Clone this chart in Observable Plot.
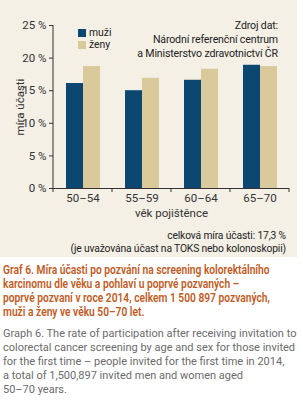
<!DOCTYPE html>
<html><head><meta charset="utf-8">
<script src="https://cdn.jsdelivr.net/npm/d3@7"></script>
<script src="https://cdn.jsdelivr.net/npm/@observablehq/plot@0.6"></script>
<style>
body{margin:0;background:#fff;font-family:Roboto,sans-serif;}
#panel{position:relative;width:297px;height:257px;background:#f4f0e6;overflow:hidden;}
#chart{position:absolute;left:0;top:0;}
.leg{position:absolute;left:78px;font-size:10.4px;color:#222;height:10px;line-height:10px;white-space:nowrap;}
.leg span.sw{display:inline-block;width:8px;height:8px;margin-right:3px;vertical-align:-1px;}
#src{position:absolute;right:19px;top:19px;text-align:right;font-size:10.6px;letter-spacing:-0.15px;line-height:14px;color:#222;white-space:nowrap;}
#note{position:absolute;right:11px;top:229px;text-align:right;font-size:10.3px;letter-spacing:-0.15px;line-height:13px;color:#222;white-space:nowrap;}
#cap{padding:6px 0 0 3px;font-size:12.2px;line-height:14px;}
#cap .t{color:#c45a1c;font-weight:600;white-space:nowrap;transform:scaleX(0.84);transform-origin:left top;}
#cap .e{color:#6b6b6b;white-space:nowrap;font-size:11px;margin-top:8px;}
</style></head><body>
<div id="panel">
  <div id="chart"></div>
  <div class="leg" style="top:28px"><span class="sw" id="sw0"></span>muži</div>
  <div class="leg" style="top:40px"><span class="sw" id="sw1"></span>ženy</div>
  <div id="src">Zdroj dat:<br>Národní referenční centrum<br>a Ministerstvo zdravotnictví ČR</div>
  <div id="note">celková míra účasti: 17,3 %<br>(je uvažována účast na TOKS nebo kolonoskopii)</div>
</div>
<div id="cap">
<div class="t">Graf 6. Míra účasti po pozvání na screening kolorektálního<br>karcinomu dle věku a pohlaví u poprvé pozvaných –<br>poprvé pozvaní v roce 2014, celkem 1 500 897 pozvaných,<br>muži a ženy ve věku 50–70 let.</div>
<div class="e">Graph 6. The rate of participation after receiving invitation to<br>colorectal cancer screening by age and sex for those invited<br>for the first time – people invited for the first time in 2014,<br>a total of 1,500,897 invited men and women aged<br>50–70 years.</div>
</div>
<script>
const ages = ["50–54","55–59","60–64","65–70"];
const sexes = ["muži","ženy"];
const muzi = [16.1, 15.0, 16.6, 18.9];
const zeny = [18.7, 16.9, 18.3, 18.7];
const yTicks = [0, 5, 10, 15, 20, 25];
const colors = ["#0b4770", "#d9c99b"];

document.getElementById("sw0").style.background = colors[0];
document.getElementById("sw1").style.background = colors[1];

const data = ages.flatMap((a, i) => [
  {age: a, sex: sexes[0], v: muzi[i]},
  {age: a, sex: sexes[1], v: zeny[i]}
]);

const plot = Plot.plot({
  width: 297, height: 222,
  marginTop: 25, marginBottom: 34, marginLeft: 53, marginRight: 8,
  style: {background: "transparent", fontFamily: "Roboto", fontSize: "11px", color: "#333"},
  fx: {domain: ages, padding: 0},
  x: {domain: sexes, paddingInner: 0, paddingOuter: 0.735, axis: null},
  y: {domain: [0, 25], ticks: yTicks},
  color: {domain: sexes, range: colors},
  marks: [
    Plot.barY(data, {fx: "age", x: "sex", y: "v", fill: "sex"}),
    Plot.ruleY([0], {stroke: "#333"}),
    Plot.axisFx({anchor: "bottom", tickSize: 0, tickPadding: 5, label: "věk pojištěnce", labelAnchor: "center", labelOffset: 28, labelArrow: "none", fontSize: 11.5}),
    Plot.axisY({ticks: yTicks, tickFormat: d => d + " %", tickSize: 4, tickPadding: 3, label: "míra účasti", labelAnchor: "center", labelOffset: 38, labelArrow: "none", fontSize: 11.5})
  ]
});
document.getElementById("chart").append(plot);

const fx = plot.scale("fx"), y = plot.scale("y");
const svg = d3.select(plot);
const y0 = y.apply(0), yTop = y.apply(25);
const x0 = fx.apply(ages[0]);
svg.append("line").attr("x1", x0).attr("x2", x0).attr("y1", y0).attr("y2", yTop).attr("stroke", "#333");
const bounds = ages.map(a => fx.apply(a)).concat([fx.apply(ages[ages.length-1]) + fx.bandwidth]);
svg.selectAll("line.b").data(bounds).join("line").attr("class","b")
  .attr("x1", d => d).attr("x2", d => d).attr("y1", y0).attr("y2", y0 + 4).attr("stroke", "#333");
</script>
</body></html>
